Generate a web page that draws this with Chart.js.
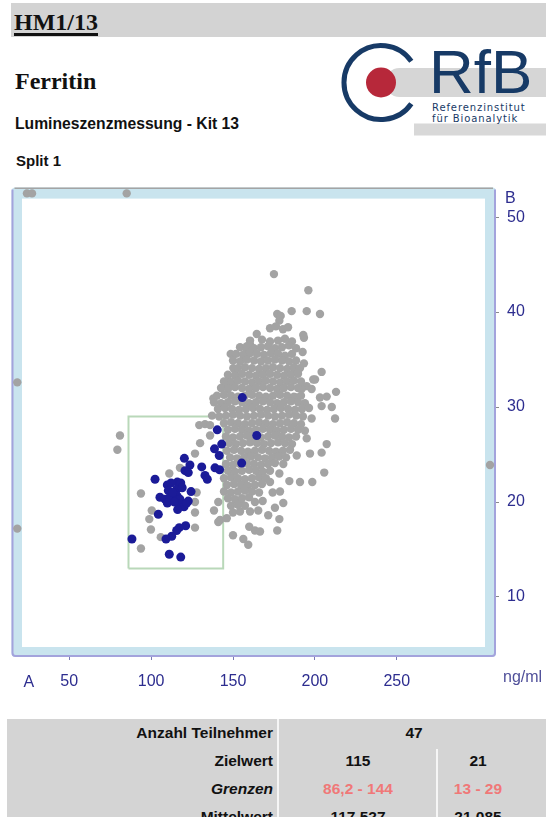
<!DOCTYPE html>
<html lang="de">
<head>
<meta charset="utf-8">
<title>HM1/13 – Ferritin</title>
<script src="https://cdn.jsdelivr.net/npm/chart.js@4/dist/chart.umd.min.js"></script>
<style>
  html, body { margin: 0; padding: 0; background: #fff; }
  body { width: 546px; height: 817px; position: relative; overflow: hidden;
         font-family: "Liberation Sans", Arial, sans-serif; color: #111; }
  .abs { position: absolute; white-space: nowrap; }
  #hdr { left: 11px; top: 3px; width: 535px; height: 34px; background: #d3d3d3; }
  #code { left: 14px; top: 9.5px; font: bold 24px/24px "Liberation Serif", serif;
          text-decoration: underline; text-decoration-thickness: 2.5px; text-underline-offset: 3px; }
  #analyte { left: 15px; top: 69px; font: bold 24px/24px "Liberation Serif", serif; }
  #method { left: 15px; top: 115.5px; font: bold 15.7px/15.7px "Liberation Sans", sans-serif; }
  #split { left: 16px; top: 153px; font: bold 15px/15px "Liberation Sans", sans-serif; }
  #logo { left: 0; top: 0; }
  #chartBox { left: 0; top: 170px; width: 546px; height: 540px; }
  .axl { font: 16px/16px "Liberation Sans", sans-serif; color: #2d2d8f; }
  #lblA { left: 23.5px; top: 674px; }
  #lblB { left: 505px; top: 190px; }
  #unit { left: 503px; top: 669px; color: #50509a; }
  #tbl { left: 7px; top: 719px; width: 539px; height: 98px; background: #d4d4d4; }
  .vl { background: #f6f6f6; width: 2px; }
  .cell { font: bold 15.5px/15.5px "Liberation Sans", sans-serif; color: #111; }
  .rt { text-align: right; }
  .ct { text-align: center; }
  .lim { color: #f07878; }
</style>
</head>
<body>
<div class="abs" id="hdr"></div>
<div class="abs" id="code">HM1/13</div>
<div class="abs" id="analyte">Ferritin</div>
<div class="abs" id="method">Lumineszenzmessung - Kit 13</div>
<div class="abs" id="split">Split 1</div>

<svg class="abs" id="logo" width="546" height="170" viewBox="0 0 546 170">
  <rect x="414" y="123.5" width="132" height="12" fill="#d8d8d8"/>
  <rect x="385" y="68" width="175" height="29" rx="14.5" fill="#d6d6d6"/>
  <path d="M 411.3 61.3 A 37 37 0 1 0 411.3 103.7" fill="none" stroke="#173a66" stroke-width="5"/>
  <circle cx="381" cy="82.5" r="15" fill="#b7283a"/>
  <text x="429" y="93" font-family="Liberation Sans, Arial, sans-serif" font-size="62" fill="#173a66">RfB</text>
  <text x="432" y="111" font-family="DejaVu Sans, sans-serif" font-size="10" letter-spacing="0.9" fill="#173a66">Referenzinstitut</text>
  <text x="432" y="122" font-family="DejaVu Sans, sans-serif" font-size="10" letter-spacing="0.9" fill="#173a66">für Bioanalytik</text>
</svg>

<div class="abs" id="chartBox"><canvas id="c" width="546" height="540"></canvas></div>
<div class="abs axl" id="lblA">A</div>
<div class="abs axl" id="lblB">B</div>
<div class="abs axl" id="unit">ng/ml</div>

<div class="abs" id="tbl"></div>
<div class="abs vl" style="left:277px;top:719px;height:98px;"></div>
<div class="abs vl" style="left:436px;top:749px;height:68px;"></div>
<div class="abs cell rt" style="left:7px;width:266px;top:724.7px;">Anzahl Teilnehmer</div>
<div class="abs cell ct" style="left:279px;width:270px;top:724.7px;">47</div>
<div class="abs cell rt" style="left:7px;width:266px;top:752.7px;">Zielwert</div>
<div class="abs cell ct" style="left:279px;width:158px;top:752.7px;">115</div>
<div class="abs cell ct" style="left:438px;width:80px;top:752.7px;">21</div>
<div class="abs cell rt" style="left:7px;width:266px;top:780.7px;font-style:italic;">Grenzen</div>
<div class="abs cell ct lim" style="left:279px;width:158px;top:780.7px;">86,2 - 144</div>
<div class="abs cell ct lim" style="left:438px;width:80px;top:780.7px;">13 - 29</div>
<div class="abs cell rt" style="left:7px;width:266px;top:808.7px;">Mittelwert</div>
<div class="abs cell ct" style="left:279px;width:158px;top:808.7px;">117,527</div>
<div class="abs cell ct" style="left:438px;width:80px;top:808.7px;">21,085</div>

<script>
// Axis ticks (method A horizontal, method B vertical, ng/ml)
const xTicks = [50, 100, 150, 200, 250];
const yTicks = [10, 20, 30, 40, 50];

// Acceptance limits for A and B
const limitsA = [86.2, 144];
const limitsB = [13, 29];

// Results of the participants using kit 13: [A, B]
const kitResults = [
  [155.7,31.0],[140.4,27.6],[164.5,27.0],[143.1,26.1],[138.7,25.6],[141.6,24.9],
  [155.3,24.1],[139.0,23.6],[141.8,23.4],[120.3,24.6],[123.7,23.9],[130.9,23.7],
  [120.7,23.3],[122.7,23.1],[132.9,22.8],[134.3,22.4],[102.4,22.4],[109.9,21.8],
  [116.0,22.1],[118.1,22.0],[115.6,21.3],[110.5,21.2],[124.4,21.1],[105.4,20.5],
  [108.5,20.3],[111.5,20.5],[116.0,20.6],[117.6,20.3],[122.7,20.1],[109.9,19.9],
  [117.6,19.8],[120.1,19.5],[121.7,19.9],[116.2,19.2],[104.4,18.7],[121.1,17.5],
  [117.2,17.3],[115.6,17.0],[112.6,16.4],[109.1,16.1],[88.3,16.1],[111.1,14.5],
  [118.1,14.2],[113.2,21.0],[114.3,20.0],[119.0,21.5],[112.2,22.0]
];

// Results of all other participants: [A, B]
const otherResults = [
  // values beyond the plotted range, shown on the frame
  [24.2,52.5],[27.3,52.5],[85.1,52.5],[18.3,32.6],[18.3,17.2],[306.9,23.9],
  // scattered results
  [175.0,44.0],[196.0,42.3],[185.8,40.1],[195.0,40.1],[203.1,39.8],[177.0,39.8],
  [179.1,39.6],[178.3,39.1],[164.5,37.7],[192.9,37.6],[193.3,37.3],[192.5,35.8],
  [193.3,34.6],[187.8,33.8],[204.1,33.7],[200.1,32.9],[195.0,32.2],[191.9,31.9],
  [188.9,31.0],[212.9,31.6],[207.2,31.1],[203.1,31.0],[204.1,30.1],[210.3,30.0],
  [212.3,28.8],[198.0,28.8],[207.2,26.1],[160.4,36.6],[158.4,36.1],[148.6,35.6],
  [151.2,33.9],[147.1,32.8],[138.0,30.9],[129.4,28.1],[132.9,28.2],[136.0,28.1],
  [129.9,26.2],[136.0,27.0],[195.0,26.7],[204.1,25.2],[197.0,25.1],[188.9,24.9],
  [180.7,24.0],[178.3,23.0],[205.7,23.1],[184.4,22.2],[190.9,22.1],[198.4,22.1],
  [172.6,22.1],[178.7,21.1],[174.2,21.0],[168.1,20.1],[163.4,20.0],[180.7,19.9],
  [175.6,19.4],[154.3,20.1],[141.0,20.0],[138.4,19.1],[142.1,18.1],[146.2,18.3],
  [154.3,19.0],[160.4,19.0],[165.4,19.1],[171.5,18.6],[178.3,18.2],[159.9,17.4],
  [163.4,17.0],[166.5,16.9],[177.0,17.0],[156.3,16.1],[159.3,15.5],[150.0,16.5],
  [81.0,27.0],[79.4,25.5],[93.8,20.9],[111.1,23.0],[100.4,19.1],[98.9,18.2],
  [99.9,17.1],[105.9,16.3],[93.8,15.1],[126.8,17.3],[126.8,18.9],[127.8,21.0],
  [126.8,20.0],[141.0,17.9],[126.8,25.1],[117.6,23.6],[150.2,34.1],[145.1,32.4],
  [199.0,32.9],[198.0,31.9],
  // main cloud
  [172.6,38.3],[176.2,38.5],[180.5,38.2],[183.6,38.4],
  [160.4,37.0],[167.7,37.1],[172.6,36.9],[177.5,37.0],[181.7,37.2],[186.0,36.9],
  [154.3,36.3],[158.5,36.4],[162.8,36.2],[167.1,36.3],[171.4,36.4],[175.6,36.2],[179.9,36.3],[184.2,36.5],[188.5,36.2],
  [151.8,35.6],[156.1,35.5],[160.4,35.7],[164.6,35.6],[168.9,35.5],[173.2,35.7],[177.5,35.6],[181.7,35.4],[186.0,35.6],
  [150.0,34.9],[154.3,34.8],[158.5,35.0],[162.8,34.9],[167.1,34.8],[171.4,34.9],[175.6,35.0],[179.9,34.9],[184.2,34.8],[188.5,34.9],
  [153.0,34.1],[157.3,34.2],[161.6,34.1],[165.9,34.0],[170.1,34.1],[174.4,34.2],[178.7,34.1],[183.0,34.0],[187.2,34.2],[190.9,34.1],
  [146.9,33.4],[151.2,33.3],[155.5,33.5],[159.8,33.4],[164.0,33.3],[168.3,33.4],[172.6,33.5],[176.9,33.4],[181.1,33.3],[185.4,33.4],[189.7,33.5],
  [144.5,32.7],[148.8,32.6],[153.0,32.8],[157.3,32.7],[161.6,32.6],[165.9,32.7],[170.1,32.8],[174.4,32.7],[178.7,32.6],[183.0,32.7],[187.2,32.8],[191.5,32.7],
  [142.7,32.0],[146.9,31.9],[151.2,32.1],[155.5,32.0],[159.8,31.9],[164.0,32.0],[168.3,32.1],[172.6,32.0],[176.9,31.9],[181.1,32.0],[185.4,32.1],[189.7,32.0],
  [140.2,31.2],[144.5,31.3],[148.8,31.2],[153.0,31.1],[157.3,31.2],[161.6,31.3],[165.9,31.2],[170.1,31.1],[174.4,31.2],[178.7,31.3],[183.0,31.2],[187.2,31.1],[191.5,31.2],
  [138.4,30.5],[142.7,30.4],[146.9,30.5],[151.2,30.6],[155.5,30.5],[159.8,30.4],[164.0,30.5],[168.3,30.6],[172.6,30.5],[176.9,30.4],[181.1,30.5],[185.4,30.6],[189.7,30.5],[193.9,30.4],
  [140.8,29.8],[145.1,29.9],[149.4,29.8],[153.7,29.7],[157.9,29.8],[162.2,29.9],[166.5,29.8],[170.8,29.7],[175.0,29.8],[179.3,29.9],[183.6,29.8],[187.8,29.7],[192.1,29.8],[196.4,29.9],
  [137.2,29.1],[141.5,29.0],[145.7,29.1],[150.0,29.2],[154.3,29.1],[158.5,29.0],[162.8,29.1],[167.1,29.2],[171.4,29.1],[175.6,29.0],[179.9,29.1],[184.2,29.2],[188.5,29.1],[192.7,29.0],
  [144.5,28.3],[148.8,28.4],[153.0,28.3],[157.3,28.2],[161.6,28.3],[165.9,28.4],[170.1,28.3],[174.4,28.2],[178.7,28.3],[183.0,28.4],[187.2,28.3],[191.5,28.2],
  [146.9,27.6],[151.2,27.7],[155.5,27.6],[159.8,27.5],[164.0,27.6],[168.3,27.7],[172.6,27.6],[176.9,27.5],[181.1,27.6],[185.4,27.7],[189.7,27.6],[193.9,27.5],
  [145.7,26.9],[150.0,26.8],[154.3,26.9],[158.5,27.0],[162.8,26.9],[167.1,26.8],[171.4,26.9],[175.6,27.0],[179.9,26.9],[184.2,26.8],[188.5,26.9],
  [147.6,26.2],[151.8,26.1],[156.1,26.2],[160.4,26.3],[164.6,26.2],[168.9,26.1],[173.2,26.2],[177.5,26.3],[181.7,26.2],[186.0,26.1],
  [146.3,25.4],[150.6,25.5],[154.9,25.4],[159.1,25.3],[163.4,25.4],[167.7,25.5],[172.0,25.4],[176.2,25.3],[180.5,25.4],[184.8,25.5],
  [148.2,24.7],[152.4,24.6],[156.7,24.7],[161.0,24.8],[165.3,24.7],[169.5,24.6],[173.8,24.7],[178.1,24.8],[182.4,24.7],
  [145.7,24.0],[150.0,23.9],[154.3,24.0],[158.5,24.1],[162.8,24.0],[167.1,23.9],[171.4,24.0],[175.6,24.1],
  [146.9,23.3],[151.2,23.2],[155.5,23.3],[159.8,23.4],[164.0,23.3],[168.3,23.2],[172.6,23.3],
  [144.5,22.5],[148.8,22.6],[153.0,22.5],[157.3,22.4],[161.6,22.5],[165.9,22.6],[170.1,22.5],
  [146.3,21.8],[150.6,21.9],[154.9,21.8],[159.1,21.7],[163.4,21.8],[167.7,21.9],
  [144.5,21.1],[148.8,21.0],[153.0,21.1],[157.3,21.2],[161.6,21.1],[165.9,21.0],
  [146.9,20.4],[151.2,20.3],[155.5,20.4],[159.8,20.5],
  [148.8,19.6],[153.0,19.7],[157.3,19.6],
  [150.0,18.9]
];

const toPoints = rows => rows.map(([a, b]) => ({ x: a, y: b }));

// Frame: light blue band, white plot field, grey top rule and violet border
const framePlugin = {
  id: 'frame',
  beforeDatasetsDraw(chart) {
    const { ctx, chartArea: a } = chart;
    const w = a.right - a.left, h = a.bottom - a.top;
    ctx.save();
    ctx.beginPath();
    ctx.roundRect(a.left, a.top, w, h, 4);
    ctx.fillStyle = '#c9e4ee';
    ctx.fill();
    ctx.fillStyle = '#ffffff';
    ctx.fillRect(a.left + 10.5, a.top + 11, w - 21.5, h - 21);
    ctx.strokeStyle = '#a4a4a4';
    ctx.lineWidth = 1.5;
    ctx.beginPath();
    ctx.moveTo(a.left + 3, a.top + 0.75);
    ctx.lineTo(a.right - 3, a.top + 0.75);
    ctx.stroke();
    ctx.strokeStyle = '#a3a3dc';
    ctx.lineWidth = 2;
    ctx.beginPath();
    ctx.moveTo(a.left + 1, a.top + 2);
    ctx.lineTo(a.left + 1, a.bottom - 4);
    ctx.arcTo(a.left + 1, a.bottom - 1, a.left + 4, a.bottom - 1, 3);
    ctx.lineTo(a.right - 4, a.bottom - 1);
    ctx.arcTo(a.right - 1, a.bottom - 1, a.right - 1, a.bottom - 4, 3);
    ctx.lineTo(a.right - 1, a.top + 2);
    ctx.stroke();
    ctx.restore();
  }
};

const tickFont = { family: '"Liberation Sans", Arial, sans-serif', size: 16 };

new Chart(document.getElementById('c'), {
  type: 'scatter',
  data: {
    datasets: [
      {
        label: 'Kit 13',
        data: toPoints(kitResults),
        backgroundColor: '#1b1b98',
        borderWidth: 0,
        pointRadius: 4.5,
        clip: false,
        order: 1
      },
      {
        label: 'Alle Teilnehmer',
        data: toPoints(otherResults),
        backgroundColor: '#a3a3a3',
        borderWidth: 0,
        pointRadius: 4.2,
        clip: false,
        order: 2
      },
      {
        type: 'line',
        label: 'Grenzen',
        data: [
          { x: limitsA[0], y: limitsB[0] }, { x: limitsA[0], y: limitsB[1] },
          { x: limitsA[1], y: limitsB[1] }, { x: limitsA[1], y: limitsB[0] },
          { x: limitsA[0], y: limitsB[0] }
        ],
        showLine: true,
        borderColor: '#b9d8b9',
        borderWidth: 2,
        pointRadius: 0,
        fill: false,
        tension: 0,
        order: 3
      }
    ]
  },
  options: {
    responsive: false,
    animation: false,
    events: [],
    layout: { padding: { left: 11.5, top: 10, right: 0, bottom: 0 } },
    plugins: { legend: { display: false }, tooltip: { enabled: false } },
    scales: {
      x: {
        type: 'linear',
        position: 'bottom',
        min: 14.77,
        max: 310.56,
        afterBuildTicks: s => { s.ticks = xTicks.map(v => ({ value: v })); },
        afterFit: s => { s.height = 53; },
        border: { display: false },
        grid: { drawOnChartArea: false, drawTicks: true, tickLength: 3, color: '#7a7ab4' },
        ticks: { color: '#2d2d8f', font: tickFont, padding: 12, maxRotation: 0, callback: v => String(v) }
      },
      y: {
        type: 'linear',
        position: 'right',
        min: 3.679,
        max: 53.11,
        afterBuildTicks: s => { s.ticks = yTicks.map(v => ({ value: v })); },
        afterFit: s => { s.width = 50; },
        border: { display: false },
        grid: { drawOnChartArea: false, drawTicks: true, tickLength: 3, color: '#8a8a8a' },
        ticks: { color: '#2d2d8f', font: tickFont, padding: 8, callback: v => String(v) }
      }
    }
  },
  plugins: [framePlugin]
});
</script>
</body>
</html>
